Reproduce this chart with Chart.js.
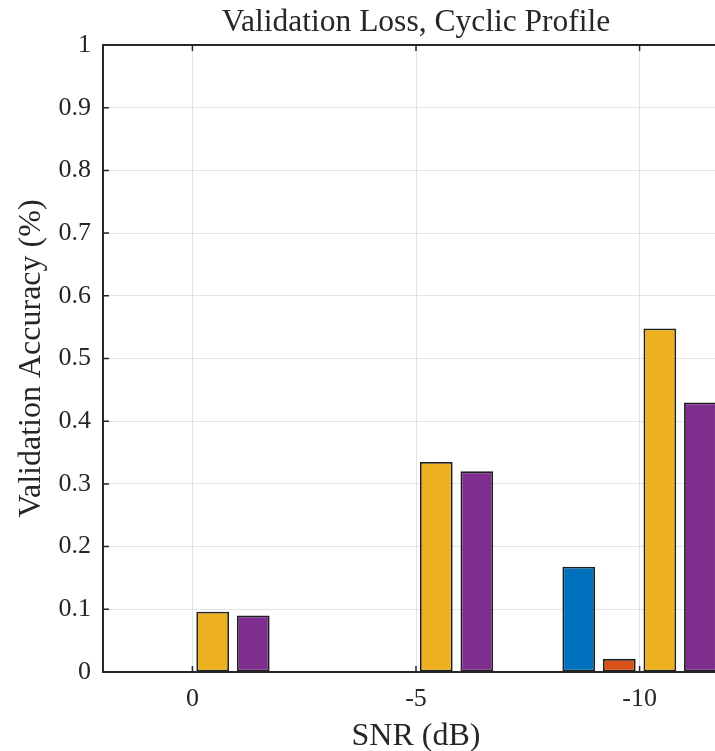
<!DOCTYPE html>
<html>
<head>
<meta charset="utf-8">
<script src="https://cdn.jsdelivr.net/npm/chart.js@4"></script>
<style>
  html, body { margin: 0; padding: 0; background: #fff; overflow: hidden; }
  #wrap { width: 740px; height: 751px; }
</style>
</head>
<body>
<div id="wrap"><canvas id="barChart" width="740" height="751"></canvas></div>
<script>
// category labels (SNR in dB) and their slot positions on the x axis
const snrLabels = ['0', '-5', '-10'];
const snrPos = [1, 2, 3];

// series values, one per SNR group
const seriesNames = ['Series 1', 'Series 2', 'Series 3', 'Series 4'];
const series1 = [0, 0, 0.168];
const series2 = [0, 0, 0.021];
const series3 = [0.096, 0.335, 0.548];
const series4 = [0.090, 0.320, 0.430];

const colors = ['#0072BD', '#D95319', '#EDB120', '#7E2F8E'];
const FONT = "'Liberation Serif', 'Times New Roman', serif";
const INK = '#262626';

function toPoints(vals) {
  return vals.map((v, i) => ({ x: snrPos[i], y: v }));
}

// MATLAB-style box with inward tick marks
const boxPlugin = {
  id: 'box',
  afterDatasetsDraw(chart) {
    const ctx = chart.ctx;
    const a = chart.chartArea;
    const xs = chart.scales.x, ys = chart.scales.y;
    const tl = 6;
    ctx.save();
    ctx.strokeStyle = INK;
    ctx.lineWidth = 1.5;
    ctx.beginPath();
    ys.ticks.forEach(t => {
      const y = ys.getPixelForValue(t.value);
      ctx.moveTo(a.left, y); ctx.lineTo(a.left + tl, y);
      ctx.moveTo(a.right, y); ctx.lineTo(a.right - tl, y);
    });
    xs.ticks.forEach(t => {
      const x = xs.getPixelForValue(t.value);
      ctx.moveTo(x, a.bottom); ctx.lineTo(x, a.bottom - tl);
      ctx.moveTo(x, a.top); ctx.lineTo(x, a.top + tl);
    });
    ctx.stroke();
    ctx.lineWidth = 2;
    ctx.strokeRect(a.left, a.top, a.right - a.left, a.bottom - a.top);
    ctx.restore();
  }
};

const allSeries = [series1, series2, series3, series4];

new Chart(document.getElementById('barChart').getContext('2d'), {
  type: 'bar',
  data: {
    datasets: allSeries.map((s, i) => ({
      label: seriesNames[i],
      data: toPoints(s),
      backgroundColor: colors[i],
      borderColor: '#1f1f1f',
      borderWidth: 1.8,
      borderSkipped: false,
      categoryPercentage: 0.7255,
      barPercentage: 0.807
    }))
  },
  options: {
    responsive: false,
    devicePixelRatio: 1,
    animation: false,
    layout: { padding: { left: 0, right: 11, top: 0, bottom: 0 } },
    plugins: {
      legend: { display: false },
      tooltip: { enabled: false },
      title: {
        display: true,
        fullSize: false,
        text: 'Validation Loss, Cyclic Profile',
        color: INK,
        font: { family: FONT, size: 31.5, weight: 'normal', lineHeight: 1.2 },
        padding: { top: 4, bottom: 3.2 }
      }
    },
    scales: {
      x: {
        type: 'linear',
        offset: false,
        min: 0.6,
        max: 3.4,
        afterBuildTicks: axis => { axis.ticks = snrPos.map(v => ({ value: v })); },
        afterFit: scale => { scale.height = 79; },
        ticks: {
          color: INK,
          padding: 11.5,
          maxRotation: 0,
          autoSkip: false,
          font: { family: FONT, size: 26 },
          callback: v => snrLabels[snrPos.indexOf(v)]
        },
        grid: { color: '#e3e3e3', lineWidth: 1, drawTicks: false, offset: false },
        border: { display: false },
        title: {
          display: true,
          text: 'SNR (dB)',
          color: INK,
          font: { family: FONT, size: 32 },
          padding: { top: 0, bottom: -5 }
        }
      },
      y: {
        min: 0,
        max: 1,
        afterFit: scale => { scale.width = 103; },
        ticks: {
          stepSize: 0.1,
          color: INK,
          padding: 12,
          font: { family: FONT, size: 26 },
          callback: v => String(+v.toFixed(1))
        },
        grid: { color: '#e3e3e3', lineWidth: 1, drawTicks: false },
        border: { display: false },
        title: {
          display: true,
          text: 'Validation Accuracy (%)',
          color: INK,
          font: { family: FONT, size: 32 },
          padding: { top: 12, bottom: 0 }
        }
      }
    }
  },
  plugins: [boxPlugin]
});
</script>
</body>
</html>
